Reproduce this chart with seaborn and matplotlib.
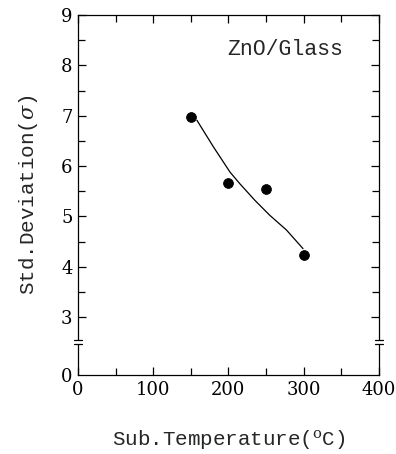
import matplotlib
matplotlib.use("Agg")
import matplotlib.pyplot as plt
import matplotlib.transforms as mtransforms
from matplotlib.ticker import MultipleLocator, FixedLocator
import seaborn as sns
import pandas as pd

# Data
temps = [150, 200, 250, 300]
std_dev = [6.97, 5.67, 5.55, 4.23]
fit_temps = [158, 180, 202, 215, 235, 255, 277, 299]
fit_std = [6.91, 6.38, 5.88, 5.65, 5.32, 5.02, 4.73, 4.36]
x_ticks = [0, 100, 200, 300, 400]
y_tick_vals = [3, 4, 5, 6, 7, 8, 9]
zero_pos = 1.85  # position of the broken-axis "0" label

sns.set_style("ticks")
plt.rcParams["font.family"] = ["DejaVu Serif"]
plt.rcParams["mathtext.fontset"] = "dejavuserif"

fig = plt.figure(figsize=(3.96, 4.54), dpi=100)
ax = fig.add_axes([78/396, 1-375/454, 301/396, 360/454])

pts = pd.DataFrame({"T": temps, "s": std_dev})
fit = pd.DataFrame({"T": fit_temps, "s": fit_std})
sns.lineplot(data=fit, x="T", y="s", ax=ax, color="black", lw=0.9, sort=False)
sns.scatterplot(data=pts, x="T", y="s", ax=ax, color="black", s=50, edgecolor="black", zorder=3)

ax.set_xlim(0, 400)
ax.set_ylim(zero_pos, 9)
ax.set_xticks(x_ticks)
ax.set_xticklabels([str(v) for v in x_ticks])
ax.xaxis.set_minor_locator(MultipleLocator(50))
ax.set_yticks([zero_pos] + y_tick_vals)
ax.set_yticklabels(["0"] + [str(v) for v in y_tick_vals])
ax.yaxis.set_minor_locator(FixedLocator([3.5, 4.5, 5.5, 6.5, 7.5, 8.5]))

ax.tick_params(which="both", direction="in", top=True, right=True, width=0.9,
               labelsize=13, colors="black")
ax.tick_params(which="major", length=6, pad=4)
ax.tick_params(which="minor", length=5)
for t in ax.yaxis.get_major_ticks()[:1]:
    t.tick1line.set_visible(False)
    t.tick2line.set_visible(False)

for sp in ax.spines.values():
    sp.set_linewidth(0.9)
    sp.set_color("black")

# axis break marks on left and right
trans = mtransforms.blended_transform_factory(ax.transAxes, ax.transData)
for xa in (0.0, 1.0):
    ax.plot([xa, xa], [2.47, 2.55], transform=trans, color="white", lw=3,
            clip_on=False, zorder=5, solid_capstyle="butt")
    for yb in (2.47, 2.55):
        ax.plot([xa - 0.014, xa + 0.014], [yb, yb], transform=trans,
                color="black", lw=0.9, clip_on=False, zorder=6)

mono = ["Liberation Mono", "DejaVu Sans Mono"]
ax.text(0.88, 0.905, "ZnO/Glass", transform=ax.transAxes, ha="right", va="center",
        fontsize=15.5, family=mono)

ax.set_xlabel("Sub.Temperature($^{\\mathrm{o}}$C)", fontsize=15, family=mono)
ax.set_ylabel("Std.Deviation($\\sigma$)", fontsize=15, family=mono)
ax.xaxis.set_label_coords(0.5, -0.148)
ax.yaxis.set_label_coords(-0.125, 0.5)

fig.savefig("out.png", dpi=100)
